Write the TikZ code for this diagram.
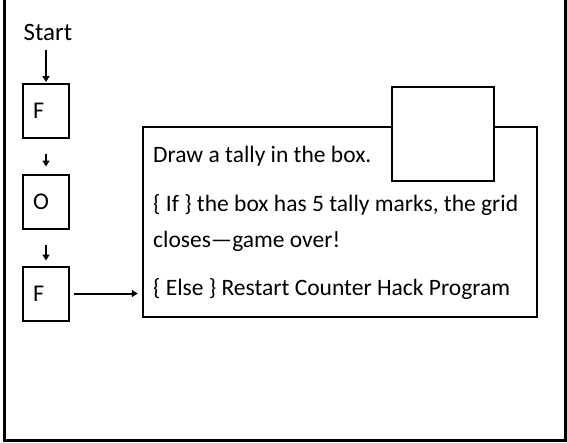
\documentclass[tikz,border=0pt]{standalone}
\usepackage{fontspec}
\setmainfont{Carlito}
\usetikzlibrary{arrows.meta}
\tikzset{
  letterbox/.style={draw, line width=2pt, minimum width=46pt, minimum height=54pt,
    text width=26pt, align=left, inner xsep=10pt, inner ysep=4pt, font=\fontsize{24}{28}\selectfont},
  rulebox/.style={draw, line width=2.5pt, minimum width=394pt, minimum height=190pt},
  tallybox/.style={draw, fill=white, line width=2pt, minimum width=102pt, minimum height=94pt},
  ruletext/.style={anchor=base west, inner sep=0pt, font=\fontsize{23.5}{28}\selectfont},
  arr/.style={line width=2pt, -{Triangle[length=6pt,width=7pt]}}
}
\begin{document}
\begin{tikzpicture}[x=1pt,y=-1pt]
    \useasboundingbox (0,0) rectangle (567,442);

    % Frame (open at the top)
    \draw[line width=3pt] (4,-5) -- (4,440) -- (565,440) -- (565,-5);

    % Start and the F-O-F column
    \node[font=\fontsize{25}{30}\selectfont, inner sep=0pt] (start) at (48,32) {Start};
    \foreach \name/\lbl/\y in {f1/F/111, o/O/201.5, f2/F/293.5}
        \node[letterbox] (\name) at (46,\y) {\lbl};

    % Rule box with the tally box on its top edge
    \node[rulebox] (rule) at (340,222) {};
    \node[tallybox] (tally) at (443,134) {};

    % Rule text
    \node[ruletext] (draw) at (153,162) {Draw a tally in the box.};
    \node[ruletext] (if) at (153,211) {\{ If \} the box has 5 tally marks, the grid};
    \node[ruletext] (if2) at (153,247) {closes\textemdash game over!};
    \node[ruletext] (else) at (153,295) {\{ Else \} Restart Counter Hack Program};

    % Arrows
    \draw[arr, shorten <=10pt, shorten >=1pt] (start.south -| f1.north) -- (f1.north);
    \draw[arr, shorten <=15pt, shorten >=7pt] (f1.south) -- (o.north);
    \draw[arr, shorten <=15pt, shorten >=5pt] (o.south) -- (f2.north);
    \draw[arr, shorten <=4pt, shorten >=4pt] (f2.east) -- (f2.east -| rule.west);
\end{tikzpicture}
\end{document}
